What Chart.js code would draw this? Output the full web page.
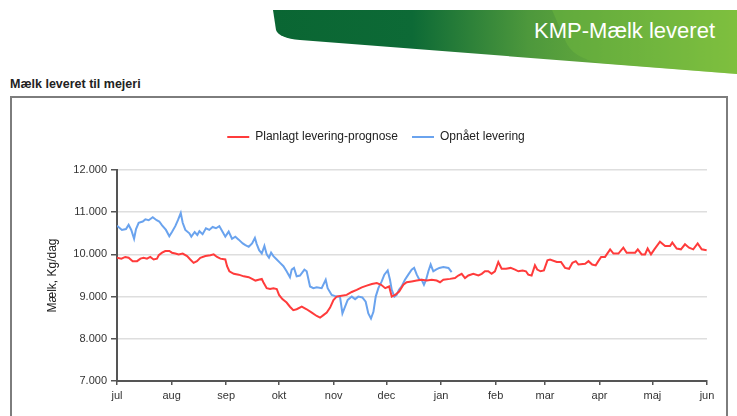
<!DOCTYPE html>
<html>
<head>
<meta charset="utf-8">
<script src="https://cdn.jsdelivr.net/npm/chart.js@4"></script>
<style>
  body { margin: 0; background: #fff; font-family: 'Liberation Sans', Arial, sans-serif; }
  #page { position: relative; width: 737px; height: 416px; overflow: hidden; }
  #banner { position: absolute; left: 0; top: 0; }
  #bannerText { position: absolute; right: 22px; top: 18px; color: #fff; font-size: 22px; }
  #heading { position: absolute; left: 10px; top: 77px; font-size: 12.5px; font-weight: bold; color: #222; }
  #box { position: absolute; left: 10px; top: 96px; width: 718px; height: 340px; box-sizing: border-box; border: 2px solid #7d7d7d; }
  #chart { position: absolute; left: 0; top: 0; }
</style>
</head>
<body>
<div id="page">
  <svg id="banner" width="737" height="80">
    <defs>
      <linearGradient id="g1" x1="0" x2="1" y1="0" y2="0">
        <stop offset="0" stop-color="#0a6633"/>
        <stop offset="0.3" stop-color="#0d6a36"/>
        <stop offset="0.55" stop-color="#4d983c"/>
        <stop offset="1" stop-color="#8cc63f"/>
      </linearGradient>
    </defs>
    <path d="M273,10 L737,10 L737,74 L300,40 Q279,38 276,30 Z" fill="url(#g1)"/>
    <path d="M552,10 L737,10 L737,74 L600,63 Q572,58 565,40 Z" fill="#6fb83f" opacity="0.45"/>
  </svg>
  <div id="bannerText">KMP-Mælk leveret</div>
  <div id="heading">Mælk leveret til mejeri</div>
  <div id="box"></div>
  <canvas id="chart" width="737" height="416"></canvas>
</div>
<script>
// month ticks (days from 1 jul)
const monthLabels = ['jul', 'aug', 'sep', 'okt', 'nov', 'dec', 'jan', 'feb', 'mar', 'apr', 'maj', 'jun'];
const monthStarts = [0, 31, 62, 92, 123, 153, 184, 215, 243, 274, 304, 335];

// Planlagt levering-prognose
const planDays = [0, 2.5, 4.7, 6.6, 8.9, 11.4, 13.3, 15.1, 17, 18.9, 20.8, 22.7, 23.7, 25.6, 27.4, 29.7,
  31.2, 33.1, 35, 37.3, 39.8, 41.6, 43.5, 45.4, 47.3, 50.2, 53, 54.9, 56.8, 58.7, 61.5, 62.5, 63.8,
  66.3, 69.1, 72, 74.8, 76.7, 78.6, 80.4, 82.2, 83.1, 85, 86.9, 88.8, 90.7, 92, 93.9, 96.3, 98.2,
  100.1, 102, 104.9, 107.7, 110.6, 113.4, 115.3, 117.2, 119.1, 121, 122.9, 124.7, 127.6, 130.4,
  133.3, 136.1, 139, 141.8, 144.7, 147.5, 150, 152.3, 154.5, 156, 157.9, 160.2, 162.6, 164.5,
  167.3, 170.2, 173, 175.9, 178.7, 181.5, 183.4, 185.3, 189.1, 191.9, 193.8, 195.7, 197.6, 199.5,
  202.3, 205.2, 207.1, 208.9, 210.8, 212.7, 214.6, 216.5, 218.4, 220.9, 223.5, 226, 227.9, 230.3,
  232.2, 233.5, 235.4, 237.3, 238.6, 240.5, 242.4, 244.4, 245.9, 249.7, 252.1, 254.4, 256.7, 258.6,
  260.5, 262, 265.8, 267.7, 269.8, 271.8, 273.3, 274.9, 277.1, 280, 281.9, 284.7, 287.5, 289.4,
  292, 294.2, 295.7, 297.9, 299.8, 301.3, 303.2, 305.1, 308.3, 311.2, 314, 315.3, 317.8, 320.2,
  322.5, 324.8, 327.2, 329.7, 332, 334.8];
const planValues = [9920, 9900, 9940, 9920, 9840, 9840, 9900, 9920, 9900, 9940, 9880, 9900, 9980, 10040, 10080, 10080,
  10040, 10020, 10000, 10020, 9960, 9880, 9800, 9840, 9920, 9960, 9980, 10000, 9940, 9900, 9880, 9720, 9600,
  9540, 9520, 9480, 9460, 9420, 9380, 9400, 9420, 9340, 9200, 9180, 9200, 9180, 9040, 8940, 8860, 8760,
  8680, 8700, 8760, 8700, 8620, 8540, 8500, 8560, 8620, 8740, 8920, 9000, 9020, 9040,
  9110, 9160, 9220, 9260, 9300, 9320, 9280, 9200, 9240, 9000, 9040, 9120, 9280, 9340,
  9360, 9380, 9400, 9380, 9400, 9380, 9340, 9400, 9420, 9440, 9500, 9540, 9440, 9500,
  9540, 9500, 9540, 9600, 9600, 9540, 9600, 9820, 9660, 9660, 9680, 9640, 9600, 9620,
  9600, 9520, 9500, 9740, 9640, 9600, 9620, 9860, 9880, 9820, 9820, 9680, 9660, 9800,
  9840, 9760, 9780, 9840, 9760, 9740, 9840, 9940, 9940, 10120, 10020, 10020, 10160, 10040,
  10040, 10040, 10120, 10000, 10000, 10140, 10000, 10120, 10300, 10200, 10200, 10280, 10140, 10120,
  10240, 10160, 10120, 10260, 10120, 10100];

// Opnået levering
const actualDays = [0, 2.8, 5.1, 6.6, 8.1, 9.7, 10.8, 12.3, 14.6, 16.1, 18, 20.3, 22.5, 24, 25.6, 27.8,
  29.7, 31.2, 33.1, 34.6, 36.2, 37.3, 38.8, 41.1, 42.2, 44.1, 45.6, 46.8, 48.6, 50.5, 52.4, 54.3,
  56.2, 58.1, 60, 61.5, 63.4, 65.3, 67.2, 69.1, 71.4, 72.9, 74.8, 76.7, 78.3, 79.3, 80.7, 82.2,
  83.7, 85, 86.3, 87.5, 88.8, 90.7, 92.6, 94.5, 96.3, 98.2, 99.2, 100.5, 102, 103.9, 106.4, 107.7,
  109.6, 111.5, 113.4, 116.2, 118.5, 119.6, 121.9, 124.7, 126.6, 128, 129.5, 131, 133.3, 135.2,
  137, 139.3, 141.2, 142.7, 144.2, 145.6, 146.9, 148.4, 150.3, 151.8, 153.7, 155, 156, 157.5,
  158.8, 160.1, 161.6, 163.5, 165.4, 167.3, 168.7, 170.2, 171.7, 173, 174.3, 175.5, 176.8, 178.1,
  179.6, 181.1, 183, 185.3, 188.2, 190];
const actualValues = [10680, 10580, 10600, 10700, 10580, 10370, 10600, 10750, 10780, 10830, 10810, 10880, 10810, 10780, 10690, 10580,
  10430, 10530, 10670, 10810, 10980, 10750, 10580, 10500, 10420, 10530, 10460, 10550, 10480, 10620, 10580, 10650,
  10620, 10670, 10530, 10420, 10540, 10370, 10420, 10350, 10260, 10220, 10180, 10260, 10390, 10250, 10100, 10020,
  10200, 10000, 9920, 10040, 9960, 9880, 9800, 9720, 9600, 9460, 9640, 9680, 9480, 9500, 9640, 9600,
  9240, 9200, 9220, 9200, 9400, 9200, 9040, 9000, 9000, 8600, 8760, 8920, 9000, 8940,
  9000, 8980, 8880, 8600, 8480, 8640, 9000, 9200, 9360, 9520, 9620, 9400, 9160, 9000,
  9040, 9160, 9240, 9400, 9520, 9640, 9680, 9520, 9400, 9400, 9280, 9400, 9600, 9760,
  9600, 9640, 9680, 9700, 9680, 9580];

const fmt = v => v.toString().replace(/\B(?=(\d{3})+(?!\d))/g, '.');

Chart.defaults.font.family = "'Liberation Sans', Arial, sans-serif";
Chart.defaults.font.size = 11;
Chart.defaults.color = '#333';

new Chart(document.getElementById('chart'), {
  type: 'line',
  data: {
    datasets: [
      {
        label: 'Planlagt levering-prognose',
        data: planDays.map((d, i) => ({ x: d, y: planValues[i] })),
        borderColor: '#ff3b3b',
        backgroundColor: '#ff3b3b',
        borderWidth: 2,
        pointRadius: 0,
        tension: 0
      },
      {
        label: 'Opnået levering',
        data: actualDays.map((d, i) => ({ x: d, y: actualValues[i] })),
        borderColor: '#6aa3ee',
        backgroundColor: '#6aa3ee',
        borderWidth: 2,
        pointRadius: 0,
        tension: 0
      }
    ]
  },
  options: {
    responsive: false,
    animation: false,
    layout: { padding: { left: 45, right: 30, top: 117, bottom: 0 } },
    plugins: {
      legend: {
        position: 'top',
        labels: {
          usePointStyle: true,
          pointStyle: 'line',
          pointStyleWidth: 22,
          padding: 14,
          color: '#222',
          font: { size: 12 }
        }
      },
      tooltip: { enabled: false }
    },
    scales: {
      x: {
        type: 'linear',
        min: 0,
        max: 335,
        afterBuildTicks: s => { s.ticks = monthStarts.map(v => ({ value: v })); },
        afterFit: s => { s.height = 35; },
        ticks: {
          padding: 4,
          autoSkip: false,
          maxRotation: 0,
          color: '#333',
          callback: v => monthLabels[monthStarts.indexOf(v)]
        },
        grid: { drawOnChartArea: false, tickLength: 4, tickColor: '#555', lineWidth: 1.5 },
        border: { color: '#555', width: 2 }
      },
      padTop: {
        type: 'linear',
        position: 'top',
        display: true,
        afterFit: s => { s.height = 17; },
        ticks: { display: false },
        grid: { display: false },
        border: { display: false }
      },
      y: {
        min: 7000,
        max: 12000,
        afterFit: s => { s.width = 72; },
        ticks: { stepSize: 1000, padding: 4, color: '#333', callback: v => fmt(v) },
        grid: { color: '#dedede', lineWidth: 1.5, tickLength: 6, tickColor: '#555' },
        border: { color: '#555', width: 2 },
        title: { display: true, text: 'Mælk, Kg/dag', color: '#222', font: { size: 12 }, padding: { top: 0, bottom: 0 } }
      }
    }
  }
});
</script>
</body>
</html>
